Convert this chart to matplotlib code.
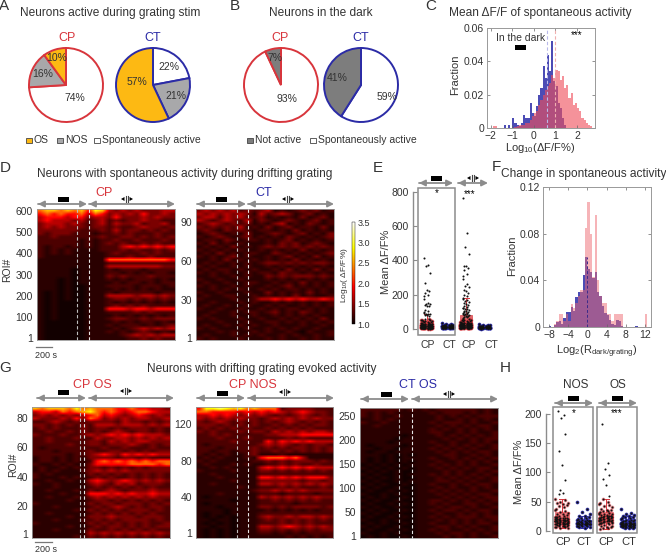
import numpy as np
import matplotlib
matplotlib.use('Agg')
import matplotlib.pyplot as plt
from matplotlib.patches import Rectangle, Polygon

plt.rcParams['font.family'] = ['Liberation Sans', 'DejaVu Sans']
plt.rcParams['mathtext.default'] = 'regular'

RED = '#d8353c'
BLUE = '#2b2ba6'
YELLOW = '#fdb913'
GRAY = '#a8a8aa'
DGRAY = '#7d7d7d'
TXT = '#333333'
FRAME = '#8c8c8c'
W, H = 666, 553

# pies
pie_a_cp = [74, 16, 10]
pie_a_ct = [22, 21, 57]
pie_b_cp = [93, 7]
pie_b_ct = [59, 41]

# panel C, bins of 0.1 from -2.0
c_red = [0, .0015, .001, 0, 0, 0, 0, 0, 0, 0, 0, .0005, .001, .002, .002, .002, .003, .003, .005, .007,
         .009, .010, .014, .017, .020, .023, .025, .027, .032, .030, .035, .034, .029, .031, .024, .026,
         .018, .021, .014, .015, .012, .010, .006, .005, .003, .002, .001]
c_blue = [0, 0, 0, 0, 0, 0, .002, 0, .002, 0, .006, .003, .002, .001, .003, .008, .006, .006, .015, .009,
          .007, .013, .020, .024, .037, .030, .044, .034, .052, .028, .025, .015, .012, .006, .002, 0,
          0, 0, 0, 0, 0, 0, 0, 0, 0, 0, 0]

# panel F, bins of 0.5 from -8
f_red = [0, 0, .003, .005, .011, .011, .005, .011, .005, .020, .016, .021, .027, .032, .032, .085,
         .107, .080, .043, .096, .040, .027, .021, .021, .011, .011, .005, .011, .011, .011, .011,
         0, 0, 0, 0, 0, 0, 0, 0, 0, .011, 0]
f_blue = [.001, 0, .002, .004, .005, .003, .008, .013, .013, .017, .014, .026, .030, .030, .045, .060,
          .050, .047, .042, .047, .030, .027, .018, .012, .010, .006, .003, .002, .006, .005, .001,
          0, 0, 0, 0, 0, .001, 0, 0, 0, 0, 0]

# panel E, mean dF/F% per neuron
e_cp1 = [415, 375, 365, 325, 270, 230, 220, 210, 200, 190, 175, 150, 145, 145, 140, 135, 135, 110, 105, 100,
         95, 90, 85, 85, 80, 80, 75, 60, 58, 55, 52, 50, 48, 46, 44, 42, 40, 38, 36, 35, 34, 32, 30, 29, 28,
         27, 26, 25, 24, 23, 22, 21, 20, 20, 19, 18, 17, 16, 15, 14, 13, 12, 11, 10, 9, 8, 7, 6, 5, 4, 3, 2,
         30, 28, 26, 25, 24, 23, 22, 21, 20, 19, 18, 17, 16, 15, 14, 13, 12, 11, 10, 9, 8, 7, 6, 5, 4, 3,
         27, 25, 24, 22, 21, 20, 18, 17, 15, 14, 13, 12, 11, 10, 9, 8, 7, 6, 5, 4,
         26, 23, 21, 19, 18, 16, 14, 12, 11, 10, 9, 8, 7, 6, 5, 4, 3, 2]
e_ct1 = [35, 30, 28, 26, 25, 24, 22, 21, 20, 19, 18, 18, 17, 16, 16, 15, 15, 14, 14, 13, 13, 12, 12, 11, 11,
         10, 10, 9, 9, 8, 8, 7, 7, 6, 6, 5, 4, 3, 20, 18, 16, 15, 14, 13, 12, 11, 10, 9, 8, 7, 16, 14, 13,
         12, 11, 10, 9, 8, 7, 6]
e_cp2 = [765, 560, 480, 440, 370, 365, 355, 345, 320, 310, 290, 265, 250, 245, 230, 220, 210, 200, 190, 180,
         175, 170, 165, 155, 150, 145, 140, 135, 130, 125, 120, 118, 115, 110, 108, 105, 100, 98, 95, 92, 90,
         88, 85, 82, 80, 78, 75, 72, 70, 65, 60, 58, 55, 52, 50, 48, 46, 44, 42, 40, 38, 36, 35, 34, 32, 30,
         29, 28, 27, 26, 25, 24, 23, 22, 21, 20, 20, 19, 18, 17, 16, 15, 14, 13, 12, 11, 10, 9, 8, 7, 6, 5, 4, 3,
         35, 33, 31, 30, 28, 27, 26, 25, 24, 23, 22, 21, 20, 19, 18, 17, 16, 15, 14, 13, 12, 11, 10, 9, 8, 7, 6, 5,
         34, 32, 30, 28, 26, 25, 24, 23, 22, 21, 20, 19, 18, 17, 16, 15, 14, 13, 12, 11, 10, 9, 8, 7, 6, 5, 4,
         33, 30, 28, 26, 24, 23, 22, 21, 20, 19, 18, 17, 16, 15, 14, 13, 12, 11, 10, 9, 8, 7, 6, 5]
e_ct2 = [30, 26, 24, 22, 20, 19, 18, 17, 16, 15, 15, 14, 14, 13, 13, 12, 12, 11, 11, 10, 10, 9, 9, 8, 8, 7, 7,
         6, 6, 5, 5, 4, 4, 3, 2, 14, 13, 12, 11, 10, 9, 8, 7, 6, 5, 12, 11, 10, 9, 8, 7, 6]

# panel H
h_nos_cp = [205, 198, 192, 166, 137, 112, 86, 70, 65, 62, 55, 52, 50, 48, 47, 45, 44, 42, 40, 38, 36, 34, 32, 30,
            29, 28, 27, 26, 25, 24, 23, 22, 21, 20, 20, 19, 19, 18, 18, 17, 17, 16, 16, 15, 15, 14, 14, 13, 13,
            12, 12, 11, 11, 10, 10, 9, 9, 8, 8, 7, 7, 6, 5, 4, 24, 22, 21, 20, 19, 18, 17, 16, 15, 14, 13, 12, 11,
            10, 9, 21, 20, 19, 18, 17, 16, 15, 14, 13, 12]
h_nos_ct = [50, 38, 32, 28, 26, 25, 24, 22, 21, 20, 19, 18, 18, 17, 17, 16, 16, 15, 15, 14, 14, 13, 13, 12, 12, 11,
            11, 10, 10, 9, 9, 8, 8, 7, 6, 5, 16, 15, 14, 14, 13, 13, 12, 12, 11, 11, 16, 15, 14, 13, 12, 11]
h_os_cp = [182, 115, 105, 95, 88, 78, 60, 55, 50, 48, 46, 44, 42, 40, 38, 36, 35, 34, 33, 32, 31, 30, 29, 28, 27,
           26, 25, 24, 23, 22, 21, 20, 20, 19, 18, 17, 16, 15, 14, 13, 12, 11, 10, 9, 8, 7, 6, 5, 4, 3, 28, 26, 25,
           24, 23, 22, 21, 20, 19, 18, 17, 16, 15, 14, 13, 27, 25, 23, 21, 20, 19, 18, 16, 15, 14]
h_os_ct = [38, 30, 28, 27, 26, 25, 24, 23, 22, 21, 20, 19, 18, 18, 17, 17, 16, 16, 15, 15, 14, 14, 14, 13, 13, 13,
           12, 12, 12, 11, 11, 11, 10, 10, 10, 9, 9, 9, 8, 8, 8, 7, 7, 6, 6, 5, 5, 4, 14, 13, 12, 12, 11, 11, 10, 10,
           9, 9, 8, 8, 13, 12, 11, 10, 9, 8, 12, 11, 10, 9]

# heatmaps, one digit per cell, top row first, digit_levels turns a digit into log10(dF/F%)
digit_levels = [1.03, 1.12, 1.25, 1.42, 1.65, 1.95, 2.3, 2.6, 2.85, 3.1]

hm_d_cp = """67767675874343433344
56565564653434353343
45554553443533343433
45444342342323343322
34443432342433423342
34343332332322343323
33333322232423323232
32333222122323222322
22322222232233232323
22222212122322322232
22222212123232232322
21221212122245454545
21212111122232322323
21212111112322232322
21111111112223223222
11111111116666666665
11111111112222222222
11111111114444444433
11111011112122212222
11111011112212121221
11111011113232223222
11101011112121222121
11101011111212212122
11101001112222122212
11101001111212121211
10101001112122222122
10101001114444344343
10101001112332323232
10100001112121212121
10100001112323232222
10100001115554554555
10100001112222323222
10100001111212121212
10100001112332232333
10000001111212122121
10000001112122212123
10000001111212343434
10000001112121232121
10000001111123434344
10000001111112232322"""

hm_d_ct = """34343423234121232312
43434343142343123121
34424342231212131231
43234324132123212312
23432323121341213212
32323241213123122131
23213232122121312121
12321213112321231213
21232123121213212123
12213212212123121212
21312121112132312321
12121312123232323232
21212121121212131212
12131212211321212123
21212312112123121312
11213121212121312121
12121212123323232332
21211212112121212121
12122121211213121312
21212112122132212121
11211212113232333232
21121121112121212121
12112112211212131212
21211212112123121212
11212121121212212121
21121112113121213121
12112211212121312112
21111211244545454454
11211121211212121212
12112112112121121212
21121121121212212121
11211212212312132121
12111211211212121211
21211121121121212131
11121112112212121212
12112121211211121121
21211112112121211211
11121211212112102112
12111212121121211212
21211121112121121211"""

hm_g_os = """76777686766655655443
45546567865654566544
34343434564543454343
43334353653434344334
22343232333324332323
33232323244434443434
23232223233232333232
22322323232343233232
32223223434545454443
22322232243344343434
22322222332434344333
22222322332333432323
21222222223223222322
22212222322332323233
22222122345435454544
12212121333323323222
12212121256565656566
21121211355555666656
12112121332323232333
12121112343434333333
21211111323232323232
21112121232322323232
11211211454345434343
21121111343243423332
11121111232323232322
11211121323432333433
11112111555454544544
11211121343434343433
11111211233232323232
21111111323323332323
11121111232343232332
11111121323232333232
11211111232323232322
11111211333433323332
11121112232323333232
21111111323232323223
11111211232332323233
11121111322323232322
11111111434343434343
11111121323232323232"""

hm_g_nos = """58898786766623333222
66555545454543454332
44545434343232343232
43434343323434343433
32343232323234323232
33323232322323232332
23232323223232323222
32322232332434343443
22323222223344455555
22232223222223232222
22222322225354545444
21222222234343232332
22212222323232332323
22122122322323232323
21212112311121111111
12121112156665641111
21211111223232333232
12111212112232322322
11212111145454545444
21111211133232323232
11211111122222222222
11121111155454545553
11111211133333323323
11211111144343434343
11111121122232322232
11111111233434343333
11121111122212222122
10111111143434343433
11111011122323232322
10111111122222122222
11101111133232333323
11110111112121212122
10110111122222222222
10101011134334344343
11011011123232323232
10101011122232323222
11011011144345434343
10101011133232323233
10101011122121212222
10101011111112121212"""

hm_g_ct = """22222212121222222121
21212111112122212121
21211211111212121222
11212111111211212121
21121111112122212112
11211111111212121221
11111111112121212121
11111111112211212112
11111101111212121212
11111011111121212122
11110111112112112121
10111101111212121212
11011011112121212112
10110111111212121221
11101010111122112121
10101011112112121212
10101010111211212121
01010101112121212112
10101010111212121221
01010100111121211212
10100101112121212121
01010100111212121212
10100101111221212112
01010010112112121221
10100100111212112121
01001010112121212112
10010100111212121221
01010010111121212122
10100100112212121212
01001010112121122121
10100100111212212112
01010010112122121221
10100100111211212121
01001010112121222122
10010100111212121212
01010010112112121221
10100100111221212112
01001010112121121212
10010100111212212121
01010010111121212112"""

# tick labels of the heatmaps
d_cp_ticks = [600, 500, 400, 300, 200, 100, 1]
d_ct_ticks = [90, 60, 30, 1]
g_os_ticks = [80, 60, 40, 20, 1]
g_nos_ticks = [120, 80, 40, 1]
g_ct_ticks = [250, 200, 150, 100, 50, 1]
cbar_ticks = [1.0, 1.5, 2.0, 2.5, 3.0, 3.5]

fig = plt.figure(figsize=(W / 100, H / 100), dpi=100)


def px_axes(x0, y0, x1, y1, **kw):
    return fig.add_axes([x0 / W, 1 - y1 / H, (x1 - x0) / W, (y1 - y0) / H], **kw)


# overlay in pixel coordinates, for labels and arrows
ov = fig.add_axes([0, 0, 1, 1], zorder=20)
ov.set_xlim(0, W)
ov.set_ylim(H, 0)
ov.axis('off')
ov.patch.set_alpha(0)


def T(x, y, s, size=8, color=TXT, ha='center', **kw):
    ov.text(x, y, s, fontsize=size, color=color, ha=ha, va='center', **kw)


def draw_pie(cx, cy, vals, cols, edge, r=37):
    ax = px_axes(cx - r - 2, cy - r - 2, cx + r + 2, cy + r + 2)
    ax.pie(vals, colors=cols, startangle=90, counterclock=False, radius=1,
           wedgeprops=dict(edgecolor=edge, linewidth=1.4))
    ax.set_xlim(-(r + 2) / r, (r + 2) / r)
    ax.set_ylim(-(r + 2) / r, (r + 2) / r)


def arrow(x0, x1, y):
    ov.annotate('', xy=(x1, y), xytext=(x0, y),
                arrowprops=dict(arrowstyle='-|>', color=FRAME, lw=1.3, mutation_scale=9, shrinkA=0, shrinkB=0))
    ov.annotate('', xy=(x0, y), xytext=(x0 + 6, y),
                arrowprops=dict(arrowstyle='-|>', color=FRAME, lw=1.3, mutation_scale=9, shrinkA=0, shrinkB=0))


def grating_sym(x, y):
    ov.add_patch(Polygon([[x - 2.5, y - 2], [x - 2.5, y + 2], [x - 6, y]], color='k', lw=0))
    ov.add_patch(Polygon([[x + 2.5, y - 2], [x + 2.5, y + 2], [x + 6, y]], color='k', lw=0))
    ov.plot([x - 1, x - 1], [y - 3, y + 3], color='#444444', lw=0.8)
    ov.plot([x + 1, x + 1], [y - 3, y + 3], color='#444444', lw=0.8)


def dark_bar(x0, x1, y0, y1):
    ov.add_patch(Rectangle((x0, y0), x1 - x0, y1 - y0, color='k', lw=0))


def heat(rows, x0, x1, y0, y1, ticks, tick_top, tick_bot, d0, d1):
    arr = np.array([[digit_levels[int(c)] for c in r] for r in rows.split('\n')])
    ax = px_axes(x0, y0, x1, y1)
    per_px = (ticks[0] - ticks[-1]) / (tick_bot - tick_top)
    top = ticks[0] + (tick_top - y0) * per_px
    bot = ticks[-1] - (y1 - tick_bot) * per_px
    im = ax.imshow(arr, cmap='hot', vmin=1.0, vmax=3.5, aspect='auto',
                   extent=[0, 1, bot, top], interpolation='bilinear')
    ax.set_ylim(bot, top)
    ax.set_xticks([])
    ax.set_yticks(ticks)
    ax.tick_params(axis='y', length=0, labelsize=7.5, labelcolor=TXT, pad=3)
    for s in ax.spines.values():
        s.set_color('#999999')
        s.set_linewidth(0.6)
    ov.plot([d0, d0], [y0, y1], color='#bdbdbd', lw=0.8, ls=(0, (3, 2)))
    ov.plot([d1, d1], [y0, y1], color='#e6e6e6', lw=0.8, ls=(0, (3, 2)))
    return im


def hist_axes(box, xlim, ylim, xticks, yticks, ylabels):
    ax = px_axes(*box)
    ax.set_xlim(*xlim)
    ax.set_ylim(*ylim)
    ax.set_xticks(xticks)
    ax.set_yticks(yticks)
    ax.set_yticklabels(ylabels)
    ax.tick_params(direction='in', length=2, width=0.5, color='#666666', labelsize=7.5,
                   labelcolor=TXT, pad=2, top=True, right=True)
    for s in ax.spines.values():
        s.set_color('#999999')
        s.set_linewidth(0.7)
    return ax


def swarm(ax, vals, x, col, wid, alpha):
    # a fixed spread pattern, wider in the dense part near the bottom
    spread = [-1, 0.45, -0.3, 0.9, -0.7, 0.1, 0.65, -0.5, 0.3, -0.85]
    pos = []
    for i, v in enumerate(vals):
        w = wid if v < 60 else wid * 0.55
        pos.append(x + spread[i % len(spread)] * w)
    ax.boxplot([vals], positions=[x], widths=wid * 1.9, patch_artist=True, showfliers=False, manage_ticks=False,
               boxprops=dict(facecolor=col, edgecolor=col, alpha=alpha, lw=0.6),
               medianprops=dict(color=col, lw=1), whiskerprops=dict(color=col, lw=0.7),
               capprops=dict(color=col, lw=0.7))
    # coloured halo under the dots, it makes the dense band of the reference
    low = [i for i, v in enumerate(vals) if v < 60]
    ax.scatter([pos[i] for i in low], [vals[i] for i in low], s=7, c=col, lw=0, alpha=alpha, zorder=4)
    ax.scatter(pos, vals, s=2.2, c='#111111', lw=0, zorder=5)


def scatter_axes(box, ticks):
    ax = px_axes(*box)
    ax.set_xticks([])
    ax.set_yticks(ticks)
    ax.tick_params(axis='y', direction='in', length=3, width=0.8, color=FRAME, labelsize=7.5, labelcolor=TXT, pad=3)
    for k in ['top', 'right', 'bottom']:
        ax.spines[k].set_visible(False)
    ax.spines['left'].set_color(FRAME)
    ax.spines['left'].set_linewidth(1.0)
    ax.spines['left'].set_bounds(ticks[0], ticks[-1])
    ax.patch.set_alpha(0)
    return ax


# --- A
T(4, 6, 'A', 11)
T(110, 13, 'Neurons active during grating stim', 8.6)
T(67, 38, 'CP', 9, RED)
T(153, 38, 'CT', 9, BLUE)
draw_pie(66, 85, pie_a_cp, ['white', GRAY, YELLOW], RED)
draw_pie(153, 85, pie_a_ct, ['white', GRAY, YELLOW], BLUE)
for x, y, s in [(57, 58, '10%'), (43, 74, '16%'), (75, 98, '74%'),
                (169, 67, '22%'), (176, 96, '21%'), (137, 82, '57%')]:
    T(x, y, s, 7.5)
for x, c, s in [(26, YELLOW, 'OS'), (57, GRAY, 'NOS'), (94, 'white', 'Spontaneously active')]:
    ov.add_patch(Rectangle((x, 137.5), 5.5, 5.5, fc=c, ec='#444444', lw=0.6))
    T(x + 8, 140, s, 7.5, ha='left')

# --- B
T(235, 6, 'B', 11)
T(321, 13, 'Neurons in the dark', 8.6)
T(280, 38, 'CP', 9, RED)
T(361, 38, 'CT', 9, BLUE)
draw_pie(281, 85, pie_b_cp, ['white', DGRAY], RED)
draw_pie(361, 85, pie_b_ct, ['white', DGRAY], BLUE)
for x, y, s in [(275, 58, '7%'), (287, 99, '93%'), (337, 78, '41%'), (387, 97, '59%')]:
    T(x, y, s, 7.5)
for x, c, s in [(247, DGRAY, 'Not active'), (310, 'white', 'Spontaneously active')]:
    ov.add_patch(Rectangle((x, 137.5), 5.5, 5.5, fc=c, ec='#444444', lw=0.6))
    T(x + 8, 140, s, 7.5, ha='left')

# --- C
T(431, 6, 'C', 11)
T(540, 13, 'Mean ΔF/F of spontaneous activity', 8.6)
ax_c = hist_axes((487, 28, 595, 128), (-2.17, 2.83), (0, 0.06), [-2, -1, 0, 1, 2],
                 [0, 0.02, 0.04, 0.06], ['0', '0.02', '0.04', '0.06'])
c_edges = np.arange(len(c_red) + 1) * 0.1 - 2.0
ax_c.stairs(c_blue, c_edges, fill=True, color='#2c2ca8', alpha=0.85, lw=0)
ax_c.stairs(c_red, c_edges, fill=True, color='#f0505c', alpha=0.62, lw=0)
ax_c.plot([0.62, 0.62], [0, 0.06], color='#b9b9ea', lw=0.8, ls=(0, (3, 2)))
ax_c.plot([1.0, 1.0], [0, 0.06], color='#f0b0b0', lw=0.8, ls=(0, (3, 2)))
T(521, 38, 'In the dark', 7.5)
dark_bar(515, 526, 45, 50)
T(577, 35, '***', 7, 'k')
T(455, 75, 'Fraction', 8, rotation=90)
T(540, 148, r'Log$_{10}$(ΔF/F%)', 8)

# --- D
T(5, 168, 'D', 11)
T(185, 174, 'Neurons with spontaneous activity during drifting grating', 8.6)
T(7, 270, 'ROI#', 7.5, rotation=90)
im = heat(hm_d_cp, 37, 175, 209, 340, d_cp_ticks, 211, 338, 77, 89)
heat(hm_d_ct, 196, 334, 209, 340, d_ct_ticks, 222, 338, 237, 248)
T(104, 193, 'CP', 9, RED)
T(264, 193, 'CT', 9, BLUE)
arrow(38, 87, 204)
arrow(89, 175, 204)
arrow(197, 246, 204)
arrow(248, 334, 204)
dark_bar(58, 69, 197, 202)
dark_bar(216, 227, 197, 202)
grating_sym(127, 199)
grating_sym(288, 199)
cax = px_axes(352, 222, 355, 324)
cb = fig.colorbar(im, cax=cax, ticks=cbar_ticks)
cb.ax.tick_params(length=0, labelsize=6.5, labelcolor=TXT, pad=2)
cb.ax.set_yticklabels(['1.0', '1.5', '2.0', '2.5', '3.0', '3.5'])
cb.outline.set_linewidth(0.3)
T(345, 275, r'Log$_{10}$( ΔF/F%)', 6, rotation=90)
ov.plot([36, 52], [347, 347], color='#777777', lw=0.9)
T(35, 355, '200 s', 6.5, ha='left')

# --- E
T(378, 168, 'E', 11)
ax_e = scatter_axes((413, 188, 500, 335), [0, 200, 400, 600, 800])
ax_e.set_xlim(413, 500)
ax_e.set_ylim(-35, 823)
swarm(ax_e, e_cp1, 427, RED, 6, 0.75)
swarm(ax_e, e_ct1, 448, BLUE, 6, 1.0)
swarm(ax_e, e_cp2, 466, RED, 6, 0.75)
swarm(ax_e, e_ct2, 485, BLUE, 6, 1.0)
ov.add_patch(Rectangle((418, 188), 37, 147, fc='none', ec=FRAME, lw=1.1))
T(437, 193, '*', 7, 'k')
T(470, 194, '***', 7, 'k')
arrow(419, 453, 183)
arrow(458, 488, 183)
dark_bar(431, 442, 176, 181)
grating_sym(473, 178)
T(386, 262, 'Mean ΔF/F%', 8, rotation=90)
for x, s in [(428, 'CP'), (449, 'CT'), (469, 'CP'), (491, 'CT')]:
    T(x, 345, s, 7.5)

# --- F
T(496, 167, 'F', 11)
T(584, 174, 'Change in spontaneous activity', 8.6)
ax_f = hist_axes((543, 187, 651, 327), (-9.25, 13.25), (0, 0.12), [-8, -4, 0, 4, 8, 12],
                 [0, 0.04, 0.08, 0.12], ['0', '0.04', '0.08', '0.12'])
f_edges = np.arange(len(f_red) + 1) * 0.5 - 8.0
ax_f.stairs(f_blue, f_edges, fill=True, color='#2c2ca8', alpha=0.85, lw=0)
ax_f.stairs(f_red, f_edges, fill=True, color='#ee6a72', alpha=0.5, lw=0)
ax_f.plot([0, 0], [0, 0.06], color='#3b2a8a', lw=0.7, ls=(0, (3, 2)))
T(512, 256, 'Fraction', 8, rotation=90)
T(597, 352, r'Log$_2$(R$_{dark/grating}$)', 8)

# --- G
T(5, 368, 'G', 11)
T(262, 369, 'Neurons with drifting grating evoked activity', 8.6)
T(13, 465, 'ROI#', 7.5, rotation=90)
heat(hm_g_os, 32, 170, 407, 538, g_os_ticks, 418, 534, 80, 84)
heat(hm_g_nos, 196, 333, 407, 538, g_nos_ticks, 424, 533, 237, 248)
heat(hm_g_ct, 360, 498, 408, 538, g_ct_ticks, 416, 536, 399, 412)
T(92, 385, 'CP OS', 9, RED)
T(253, 385, 'CP NOS', 9, RED)
T(418, 385, 'CT OS', 9, BLUE)
arrow(37, 86, 398)
arrow(89, 174, 398)
arrow(197, 245, 398)
arrow(248, 334, 398)
arrow(361, 409, 399)
arrow(412, 498, 399)
dark_bar(58, 69, 390, 395)
dark_bar(217, 228, 391, 396)
dark_bar(381, 392, 392, 397)
grating_sym(126, 391)
grating_sym(285, 392)
grating_sym(449, 394)
ov.plot([35, 52], [542, 542], color='#777777', lw=0.9)
T(35, 549, '200 s', 6.5, ha='left')

# --- H
T(505, 368, 'H', 11)
ax_h = scatter_axes((546, 407, 640, 533), [0, 50, 100, 150, 200])
ax_h.set_xlim(546, 640)
ax_h.set_ylim(-3.8, 211.5)
swarm(ax_h, h_nos_cp, 562, RED, 7, 0.55)
swarm(ax_h, h_nos_ct, 584, BLUE, 7, 0.95)
swarm(ax_h, h_os_cp, 606, RED, 7, 0.55)
swarm(ax_h, h_os_ct, 628, BLUE, 7, 0.95)
ov.add_patch(Rectangle((553, 407), 40, 126, fc='none', ec=FRAME, lw=1.1))
ov.add_patch(Rectangle((597, 407), 40, 126, fc='none', ec=FRAME, lw=1.1))
T(574, 413, '*', 7, 'k')
T(617, 413, '***', 7, 'k')
T(576, 385, 'NOS', 8.5)
T(618, 385, 'OS', 8.5)
arrow(555, 593, 403)
arrow(599, 637, 403)
dark_bar(568, 579, 396, 401)
dark_bar(612, 623, 396, 401)
T(519, 472, 'Mean ΔF/F%', 8, rotation=90)
for x, s in [(563, 'CP'), (584, 'CT'), (606, 'CP'), (629, 'CT')]:
    T(x, 542, s, 8)

fig.savefig('out.png', dpi=100)
plt.close()
